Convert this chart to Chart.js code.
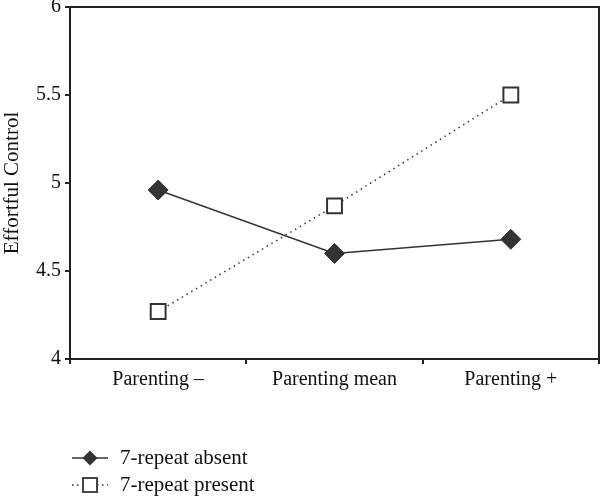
<!DOCTYPE html>
<html>
<head>
<meta charset="utf-8">
<script src="https://cdn.jsdelivr.net/npm/chart.js@4"></script>
<style>
  html, body { margin: 0; padding: 0; background: #fff; }
  #wrap { width: 601px; height: 496px; }
</style>
</head>
<body>
<div id="wrap"><canvas id="myChart" width="601" height="496"></canvas></div>
<script>
// categories and values
var labels = ['Parenting \u2013', 'Parenting mean', 'Parenting +'];
var absentValues = [4.96, 4.60, 4.68];
var presentValues = [4.27, 4.87, 5.50];
var yTicks = [4, 4.5, 5, 5.5, 6];
var seriesNames = ['7-repeat absent', '7-repeat present'];

var ink = '#333333';
var serif = "'Liberation Serif', 'DejaVu Serif', serif";

// box round the plot + hand-made legend under it
var framePlugin = {
    id: 'frame',
    afterDraw: function (chart) {
        var c = chart.ctx, a = chart.chartArea;
        c.save();
        c.strokeStyle = '#222';
        c.lineWidth = 2;
        c.strokeRect(a.left, a.top, a.right - a.left, a.bottom - a.top);

        // legend
        var rows = [
            { y: 458, dash: [], marker: 'diamond' },
            { y: 485, dash: [1.5, 3.5], marker: 'square' }
        ];
        rows.forEach(function (r, i) {
            c.strokeStyle = ink;
            c.lineWidth = 1.5;
            c.setLineDash(r.dash);
            c.beginPath();
            c.moveTo(72, r.y);
            c.lineTo(108, r.y);
            c.stroke();
            c.setLineDash([]);
            if (r.marker === 'diamond') {
                c.fillStyle = ink;
                c.beginPath();
                c.moveTo(90, r.y - 7.5);
                c.lineTo(97.5, r.y);
                c.lineTo(90, r.y + 7.5);
                c.lineTo(82.5, r.y);
                c.closePath();
                c.fill();
            } else {
                c.fillStyle = '#fff';
                c.fillRect(83, r.y - 7, 14, 14);
                c.lineWidth = 1.8;
                c.strokeRect(83, r.y - 7, 14, 14);
            }
            c.fillStyle = '#111';
            c.font = '21px ' + serif;
            c.textBaseline = 'middle';
            c.textAlign = 'left';
            c.fillText(seriesNames[i], 120, r.y);
        });
        c.restore();
    }
};

function noPad(s) {
    s.paddingTop = 0;
    s.paddingBottom = 0;
    s.paddingLeft = 0;
    s.paddingRight = 0;
}

var ctx = document.getElementById('myChart').getContext('2d');
var chart = new Chart(ctx, {
    type: 'line',
    data: {
        labels: labels,
        datasets: [{
            label: seriesNames[0],
            data: absentValues,
            borderColor: ink,
            borderWidth: 1.5,
            backgroundColor: ink,
            pointStyle: 'rectRot',
            pointRadius: 10,
            pointBorderWidth: 1,
            pointBackgroundColor: ink,
            pointBorderColor: ink,
            tension: 0
        }, {
            label: seriesNames[1],
            data: presentValues,
            borderColor: ink,
            borderWidth: 1.5,
            borderDash: [1.5, 4],
            pointStyle: 'rect',
            pointRadius: 10.5,
            pointBorderWidth: 2,
            pointBackgroundColor: '#fff',
            pointBorderColor: ink,
            tension: 0
        }]
    },
    options: {
        responsive: false,
        animation: false,
        layout: { autoPadding: false, padding: { top: 7, right: 2, bottom: 97, left: 0 } },
        plugins: {
            legend: { display: false },
            tooltip: { enabled: false }
        },
        scales: {
            x: {
                offset: true,
                grid: {
                    offset: true,
                    drawOnChartArea: false,
                    drawTicks: true,
                    tickLength: 5,
                    color: '#222',
                    lineWidth: 2
                },
                border: { display: false },
                ticks: {
                    color: '#111',
                    font: { family: serif, size: 20 },
                    padding: 4,
                    maxRotation: 0
                },
                afterFit: function (s) { s.height = 40; noPad(s); }
            },
            y: {
                min: 4,
                max: 6,
                afterBuildTicks: function (s) {
                    s.ticks = yTicks.map(function (v) { return { value: v }; });
                },
                grid: {
                    drawOnChartArea: false,
                    drawTicks: true,
                    tickLength: 5,
                    color: '#222',
                    lineWidth: 2
                },
                border: { display: false },
                ticks: {
                    color: '#111',
                    font: { family: serif, size: 20 },
                    padding: 4,
                    callback: function (v) { return String(v); }
                },
                title: {
                    display: true,
                    text: 'Effortful Control',
                    color: '#111',
                    font: { family: serif, size: 21 },
                    padding: 0
                },
                afterFit: function (s) { s.width = 70; noPad(s); }
            }
        }
    },
    plugins: [framePlugin]
});
</script>
</body>
</html>
